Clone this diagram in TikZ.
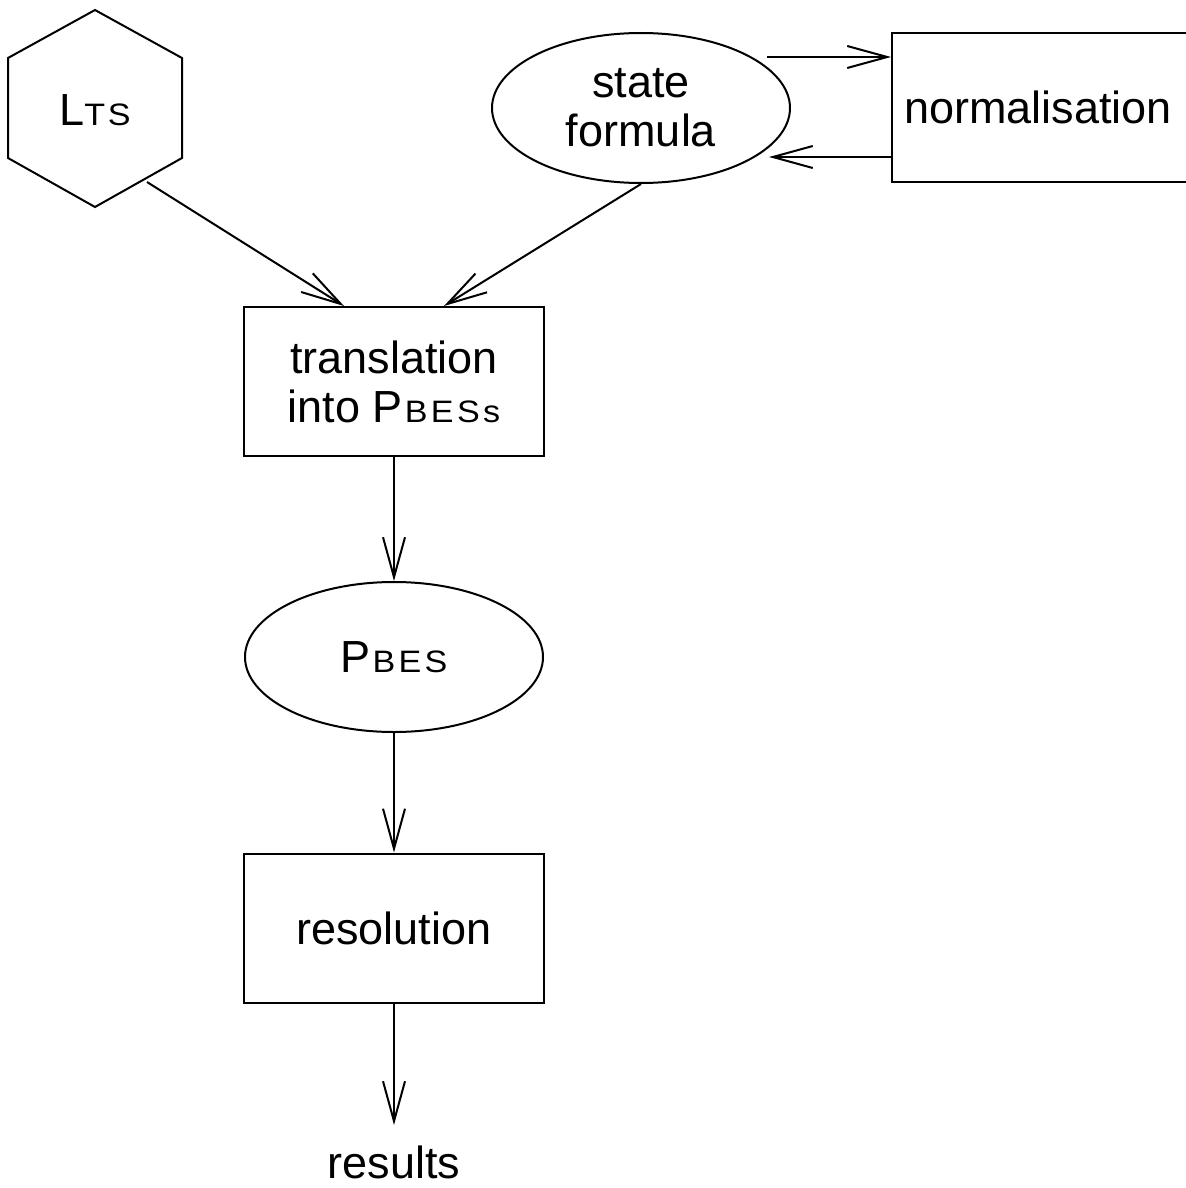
\documentclass[tikz,border=0pt]{standalone}
\usepackage{fontspec}
\usepackage{graphicx}
\setmainfont{Liberation Sans}
\usetikzlibrary{arrows.meta,shapes.geometric,calc}
\newcommand{\smc}[1]{\scalebox{1.1}[1]{\fontsize{15.5pt}{15.5pt}\selectfont #1}}
\begin{document}
\begin{tikzpicture}[x=0.5pt,y=-0.5pt, line width=1pt,
  every node/.style={font=\fontsize{22.5pt}{24.5pt}\selectfont},
  box/.style={draw, rectangle, minimum width=150pt, minimum height=74.5pt, inner sep=0pt, align=center},
  oval/.style={draw, ellipse, minimum width=149pt, minimum height=75pt, inner sep=0pt, align=center},
  arr/.style={-{Straight Barb[length=20pt,width=11pt]}}]
\useasboundingbox (0,0) rectangle (1186,1188);
% hexagon LTS
\draw (95,10) -- (182,58) -- (182,158) -- (95,207) -- (8,158) -- (8,58) -- cycle;
\node (lts) at (95,110) {L\smc{T\kern1.2pt S}};
\coordinate (ltsout) at (147,182);
% state formula
\node[oval] (sf) at (641,108) {state\\formula};
% normalisation
\node[draw, anchor=west, minimum height=74.5pt, inner xsep=6pt, inner ysep=0pt] (norm) at (891,107.5) {normalisation\hspace*{12pt}};
\coordinate (sfa) at (767,57);
\coordinate (sfb) at (769,157);
\draw[arr] (sfa) -- (norm.west |- sfa);
\draw[arr] (norm.west |- sfb) -- (sfb);
% translation
\node[box] (trans) at (394,381.5) {translation\\into P\kern1pt\smc{B\kern1.5pt E\kern1.5pt S\kern1.5pt s}};
\draw[arr] (ltsout) -- ($(trans.north)+(-50,0)$);
\draw[arr] (sf.south) -- ($(trans.north)+(50,0)$);
% PBES
\node[oval] (pbes) at (394,657) {P\kern1pt\smc{B\kern1.5pt E\kern1.5pt S}};
\draw[arr] (trans.south) -- (pbes.north);
% resolution
\node[box] (res) at (394,928) {resolution};
\draw[arr] (pbes.south) -- (res.north);
% results
\node[anchor=base] (results) at (394,1178) {results};
\coordinate (resend) at (394,1125);
\draw[arr] (res.south) -- (resend);
\end{tikzpicture}
\end{document}
